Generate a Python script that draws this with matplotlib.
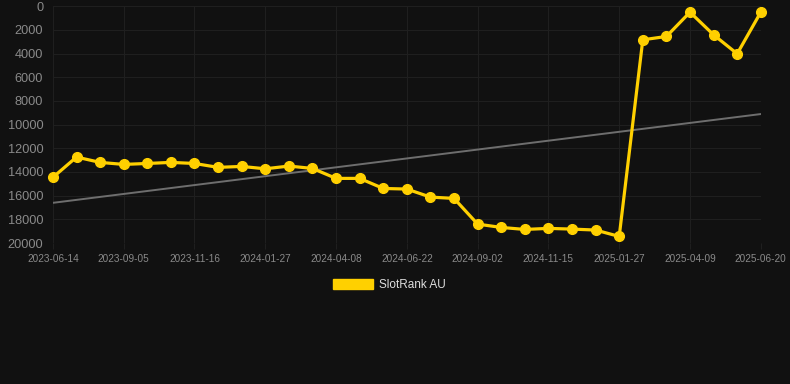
import matplotlib
matplotlib.use('Agg')
import matplotlib.pyplot as plt
from matplotlib.patches import Patch
import numpy as np

plt.rcParams['font.family'] = ['Liberation Sans', 'DejaVu Sans']

# rank values (lower = better), one point every ~24 days
ranks = [14450, 12740, 13190, 13360, 13280, 13190, 13280, 13610, 13530, 13730,
         13500, 13700, 14540, 14540, 15390, 15440, 16120, 16230, 18400, 18680,
         18850, 18760, 18820, 18900, 19440, 2840, 2560, 510, 2420, 4020, 510]
tick_labels = ['2023-06-14', '2023-09-05', '2023-11-16', '2024-01-27', '2024-04-08',
               '2024-06-22', '2024-09-02', '2024-11-15', '2025-01-27', '2025-04-09',
               '2025-06-20']
series_name = 'SlotRank AU'

BG = '#111111'
GOLD = '#ffd000'

x = np.arange(len(ranks))
slope, icpt = np.polyfit(x, ranks, 1)

fig = plt.figure(figsize=(7.9, 3.84), dpi=100, facecolor=BG)
ax = fig.add_axes([0.067, 0.367, 0.896, 0.617], facecolor=BG)

ax.plot(x, slope * x + icpt, color='#6e6e6e', linewidth=1.4, zorder=2)
ax.plot(x, ranks, '-o', color=GOLD, linewidth=2.3, markersize=7,
        clip_on=False, zorder=3)

ax.set_xlim(0, len(ranks) - 1)
ax.set_ylim(20000, 0)
ax.set_yticks(np.arange(0, 20001, 2000))
ax.set_xticks(x[::3])
ax.set_xticklabels(tick_labels)

ax.grid(True, color='#1f1f1f', linewidth=0.8)
for s in ax.spines.values():
    s.set_visible(False)
ax.tick_params(axis='y', length=0, colors='#8a8a8a', labelsize=9.2, pad=7)
ax.tick_params(axis='x', length=4, color='#1f1f1f', colors='#8a8a8a',
               labelsize=7.2, pad=4)

fig.legend(handles=[Patch(facecolor=GOLD, edgecolor=GOLD, label=series_name)],
           loc='center', bbox_to_anchor=(0.493, 0.258), frameon=False,
           handlelength=3.4, handleheight=1.0, handletextpad=0.5,
           fontsize=8.5, labelcolor='#dddddd')

plt.savefig('out.png', dpi=100, facecolor=BG)
